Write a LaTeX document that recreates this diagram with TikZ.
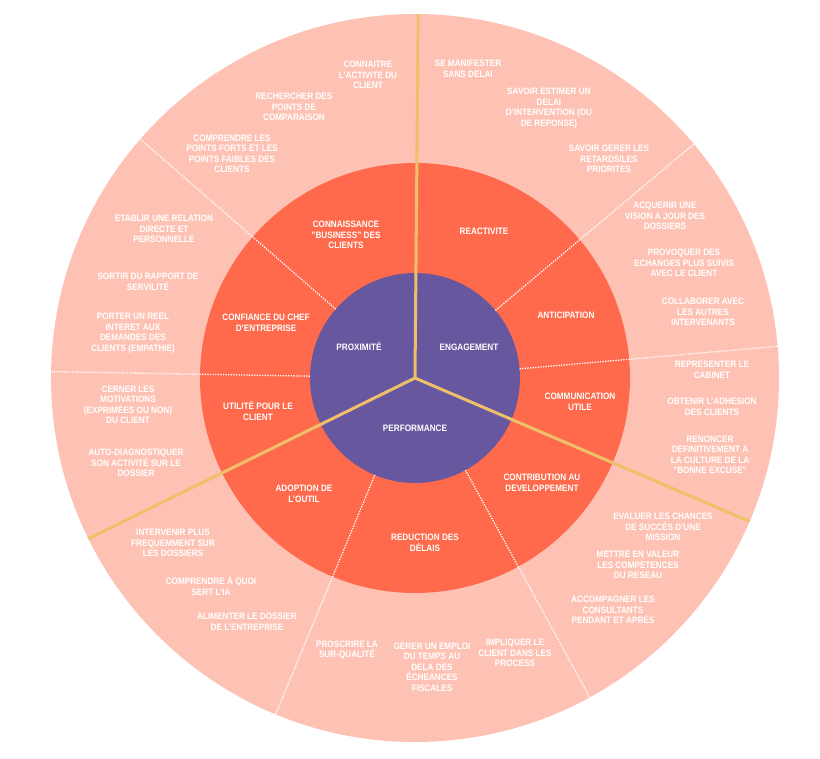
\documentclass[tikz,border=0pt]{standalone}
\usepackage{fontspec}
\setmainfont[FakeStretch=0.88]{Liberation Sans}
\definecolor{outerc}{HTML}{FEC2B5}
\definecolor{midc}{HTML}{FE6A4B}
\definecolor{innerc}{HTML}{67579F}
\definecolor{axisc}{HTML}{EEC069}
\tikzset{
  lbl/.style={text=white, font=\fontsize{9.3}{10.5}\selectfont\bfseries, align=center, inner sep=0pt},
  axisline/.style={draw=axisc, line width=3pt},
  sepline/.style={draw=white, line width=1.3pt, dash pattern=on 1.3pt off 1.3pt},
}
\begin{document}
\begin{tikzpicture}[x=1pt,y=1pt]
\useasboundingbox (-415,-381) rectangle (405,378);
\coordinate (O) at (0,0);
% rings
\fill[outerc] (O) circle (364);
\fill[midc] (O) circle (215);
\fill[innerc] (O) circle (105);
% dotted separators
\foreach \a/\n in {139/s1,179/s2,40/s3,5/s4,-112.5/s5,-61.3/s6}{
  \coordinate (\n a) at (\a:105);
  \coordinate (\n b) at (\a:364);
  \draw[sepline] (\n a) -- (\n b);
}
% main axes
\coordinate (A1) at (89.5:364);
\coordinate (A2) at (-23.2:364);
\coordinate (A3) at (-153.8:364);
\draw[axisline] (O) -- (A1);
\draw[axisline] (O) -- (A2);
\draw[axisline] (O) -- (A3);
% inner labels
\node[lbl] (proxi) at (-56,32) {PROXIMITÉ};
\node[lbl] (engag) at (54,31) {ENGAGEMENT};
\node[lbl] (perf) at (0,-50) {PERFORMANCE};
% middle labels
\node[lbl] (m1) at (-69,143) {CONNAISSANCE\\"BUSINESS" DES\\CLIENTS};
\node[lbl] (m2) at (-149,55) {CONFIANCE DU CHEF\\D'ENTREPRISE};
\node[lbl] (m3) at (-157,-33) {UTILITÉ POUR LE\\CLIENT};
\node[lbl] (m4) at (69,147) {REACTIVITE};
\node[lbl] (m5) at (151,63) {ANTICIPATION};
\node[lbl] (m6) at (165,-24) {COMMUNICATION\\UTILE};
\node[lbl] (m7) at (127,-105) {CONTRIBUTION AU\\DEVELOPPEMENT};
\node[lbl] (m8) at (10,-165) {REDUCTION DES\\DÉLAIS};
\node[lbl] (m9) at (-111,-116) {ADOPTION DE\\L'OUTIL};
% outer labels
\node[lbl] (o1) at (-47,303) {CONNAITRE\\L'ACTIVITE DU\\CLIENT};
\node[lbl] (o2) at (-121,271) {RECHERCHER DES\\POINTS DE\\COMPARAISON};
\node[lbl] (o3) at (-183,224) {COMPRENDRE LES\\POINTS FORTS ET LES\\POINTS FAIBLES DES\\CLIENTS};
\node[lbl] (o4) at (53,309) {SE MANIFESTER\\SANS DELAI};
\node[lbl] (o5) at (134,270) {SAVOIR ESTIMER UN\\DELAI\\D'INTERVENTION (OU\\DE REPONSE)};
\node[lbl] (o6) at (194,219) {SAVOIR GERER LES\\RETARDS/LES\\PRIORITES};
\node[lbl] (o7) at (250,162) {ACQUERIR UNE\\VISION A JOUR DES\\DOSSIERS};
\node[lbl] (o8) at (269,115) {PROVOQUER DES\\ECHANGES PLUS SUIVIS\\AVEC LE CLIENT};
\node[lbl] (o9) at (288,66) {COLLABORER AVEC\\LES AUTRES\\INTERVENANTS};
\node[lbl] (o10) at (297,8) {REPRESENTER LE\\CABINET};
\node[lbl] (o11) at (297,-29) {OBTENIR L'ADHESION\\DES CLIENTS};
\node[lbl] (o12) at (295,-77) {RENONCER\\DEFINITIVEMENT A\\LA CULTURE DE LA\\"BONNE EXCUSE"};
\node[lbl] (o13) at (248,-149) {EVALUER LES CHANCES\\DE SUCCÉS D'UNE\\MISSION};
\node[lbl] (o14) at (223,-187) {METTRE EN VALEUR\\LES COMPETENCES\\DU RESEAU};
\node[lbl] (o15) at (198,-232) {ACCOMPAGNER LES\\CONSULTANTS\\PENDANT ET APRÉS};
\node[lbl] (o16) at (-68,-272) {PROSCRIRE LA\\SUR-QUALITÉ};
\node[lbl] (o17) at (17,-289) {GERER UN EMPLOI\\DU TEMPS AU\\DELA DES\\ÉCHEANCES\\FISCALES};
\node[lbl] (o18) at (100,-275) {IMPLIQUER LE\\CLIENT DANS LES\\PROCESS};
\node[lbl] (o19) at (-242,-165) {INTERVENIR PLUS\\FREQUEMMENT SUR\\LES DOSSIERS};
\node[lbl] (o20) at (-204,-208) {COMPRENDRE À QUOI\\SERT L'IA};
\node[lbl] (o21) at (-168,-244) {ALIMENTER LE DOSSIER\\DE L'ENTREPRISE};
\node[lbl] (o22) at (-251,149) {ETABLIR UNE RELATION\\DIRECTE ET\\PERSONNELLE};
\node[lbl] (o23) at (-267,96) {SORTIR DU RAPPORT DE\\SERVILITÉ};
\node[lbl] (o24) at (-282,45) {PORTER UN REEL\\INTERET AUX\\DEMANDES DES\\CLIENTS (EMPATHIE)};
\node[lbl] (o25) at (-287,-27) {CERNER LES\\MOTIVATIONS\\(EXPRIMÉES OU NON)\\DU CLIENT};
\node[lbl] (o26) at (-279,-85) {AUTO-DIAGNOSTIQUER\\SON ACTIVITÉ SUR LE\\DOSSIER};
\end{tikzpicture}
\end{document}
